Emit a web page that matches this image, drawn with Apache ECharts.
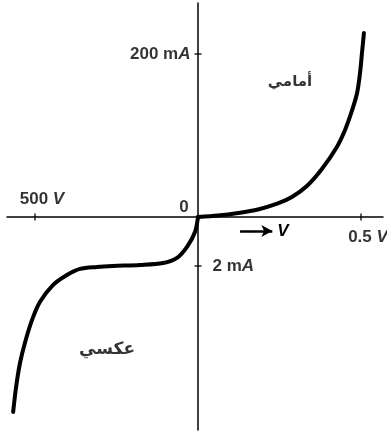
<!DOCTYPE html>
<html>
<head>
<meta charset="utf-8">
<script src="https://cdn.jsdelivr.net/npm/echarts@6/dist/echarts.min.js"></script>
<style>
  html, body { margin: 0; padding: 0; background: #fff; }
  #chart { width: 387px; height: 431px; }
</style>
</head>
<body>
<div id="chart"></div>
<script>
// Forward-bias branch of the diode characteristic: voltage (V), current (mA)
const forwardVolts     = [0, 0.061, 0.123, 0.184, 0.245, 0.288, 0.334, 0.380, 0.426, 0.451, 0.472, 0.488, 0.497, 0.503, 0.509];
const forwardMilliamps = [0, 1.8,   4.9,   9.2,   16.6,  24.5,  38.0,  58.9,  85.9,  106.7, 130.1, 152.1, 176.7, 201.2, 225.8];

// Reverse-bias branch: voltage (V), current (mA)
const reverseVolts     = [0, -9.2,  -33.7, -64.4, -107,  -178,  -261, -310,  -362,  -402,  -445,  -485,  -509,  -531,  -546,  -558,  -567];
const reverseMilliamps = [0, -0.61, -1.22, -1.67, -1.88, -1.96, -2.0, -2.04, -2.12, -2.37, -2.78, -3.47, -4.20, -5.14, -5.96, -6.94, -7.96];

// Scale marks on the axes
const voltTicks          = [-500, 0.5];
const voltTickLabels     = ['500 {i|V}', '0.5 {i|V}'];
const currentTicks       = [200, -2];
const currentTickLabels  = ['200 m{i|A}', '2 m{i|A}'];

// Region names and where they sit (V, mA)
const regionLabels = ['أمامي', 'عكسي'];
const regionVolts  = [0.282, -279];
const regionMilliamps = [165.6, -5.43];

// Each half-axis has its own scale: one plot unit = the marked division
const FWD_V = 0.5, REV_V = 500, FWD_I = 200, REV_I = 2 / 0.3006;
const toX = v => (v >= 0 ? v / FWD_V : v / REV_V);
const toY = i => (i >= 0 ? i / FWD_I : i / REV_I);
const pts = (vs, is) => vs.map((v, k) => [toX(v), toY(is[k])]);

const FONT = '"Liberation Sans", Arial, sans-serif';
const ARABIC_FONT = '"DejaVu Sans", sans-serif';
const SIZE = 17;
const richItalic = { i: { fontStyle: 'italic', fontWeight: 'bold', fontSize: SIZE, fontFamily: FONT, color: '#000' } };

const tickPoints = [
  ...voltTicks.map((v, k) => ({
    value: [toX(v), 0],
    symbolSize: [1.6, 7],
    label: k === 0
      ? { show: true, formatter: voltTickLabels[k], position: 'inside', offset: [7, -18] }
      : { show: true, formatter: voltTickLabels[k], position: 'inside', offset: [7, 20] }
  })),
  ...currentTicks.map((c, k) => ({
    value: [0, toY(c)],
    symbolSize: [7, 1.6],
    label: k === 0
      ? { show: true, formatter: currentTickLabels[k], position: 'left', distance: 4 }
      : { show: true, formatter: currentTickLabels[k], position: 'right', distance: 11 }
  }))
];

const chart = echarts.init(document.getElementById('chart'), null, { renderer: 'canvas' });

chart.setOption({
  backgroundColor: '#fff',
  animation: false,
  grid: { left: 7, right: 4, top: 3, bottom: 1 },
  xAxis: {
    type: 'value',
    min: -(198 - 7) / 163,
    max: (383 - 198) / 163,
    axisLine: { onZero: true, lineStyle: { color: '#000', width: 1.5 } },
    axisTick: { show: false },
    axisLabel: { show: false },
    splitLine: { show: false }
  },
  yAxis: {
    type: 'value',
    min: -(430 - 217) / 163,
    max: (217 - 3) / 163,
    axisLine: { onZero: true, lineStyle: { color: '#000', width: 1.5 } },
    axisTick: { show: false },
    axisLabel: { show: false },
    splitLine: { show: false }
  },
  series: [
    {
      name: 'forward',
      type: 'line',
      data: pts(forwardVolts, forwardMilliamps),
      smooth: 0.3,
      showSymbol: false,
      lineStyle: { color: '#000', width: 4, cap: 'round', join: 'round' },
      z: 3
    },
    {
      name: 'reverse',
      type: 'line',
      data: pts(reverseVolts, reverseMilliamps),
      smooth: 0.3,
      showSymbol: false,
      lineStyle: { color: '#000', width: 4, cap: 'round', join: 'round' },
      z: 3
    },
    {
      name: 'ticks',
      type: 'scatter',
      symbol: 'rect',
      itemStyle: { color: '#000' },
      label: {
        color: '#000', fontSize: SIZE, fontWeight: 'bold', fontFamily: FONT, rich: richItalic
      },
      data: tickPoints,
      z: 4
    },
    {
      name: 'origin',
      type: 'scatter',
      symbolSize: 0,
      data: [{
        value: [0, 0],
        label: { show: true, formatter: '0', position: 'inside', offset: [-14, -10],
                 color: '#000', fontSize: SIZE, fontWeight: 'bold', fontFamily: FONT }
      }],
      markLine: {
        silent: true,
        symbol: ['none', 'arrow'],
        symbolSize: [9, 11],
        lineStyle: { color: '#000', width: 2.5, type: 'solid' },
        label: { show: true, position: 'end', formatter: '{i|V}', distance: 5, rich: richItalic },
        data: [[
          { coord: [toX(0.129), toY(-0.571)] },
          { coord: [toX(0.228), toY(-0.571)] }
        ]]
      }
    },
    {
      name: 'regions',
      type: 'scatter',
      symbolSize: 0,
      data: regionLabels.map((t, k) => ({
        value: [toX(regionVolts[k]), toY(regionMilliamps[k])],
        label: { show: true, formatter: t, position: 'inside',
                 color: '#000', fontSize: k === 0 ? 15 : 17, fontWeight: 'bold', fontFamily: ARABIC_FONT }
      }))
    }
  ]
});
</script>
</body>
</html>
